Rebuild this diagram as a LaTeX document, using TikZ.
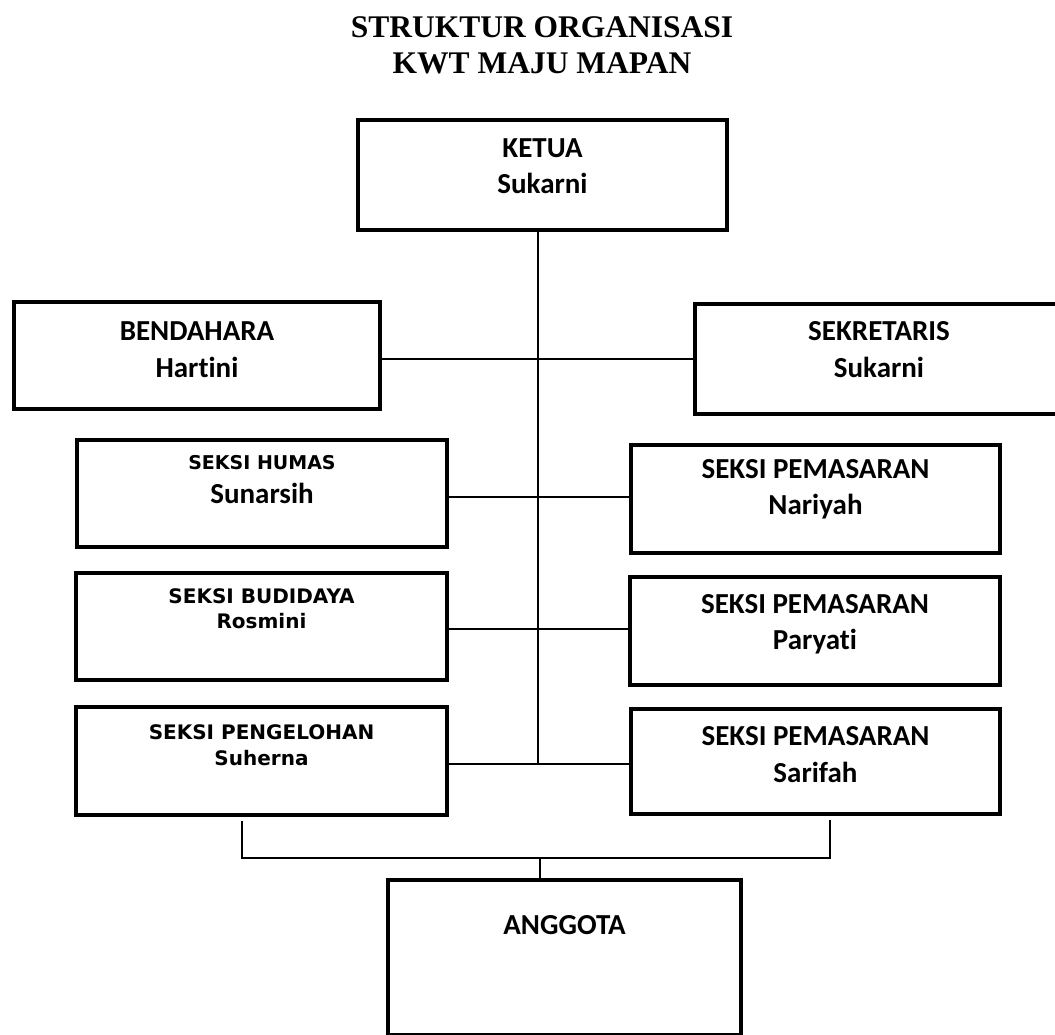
\documentclass[tikz,border=0pt]{standalone}
\usepackage{fontspec}
\setmainfont{Liberation Serif}
\newfontfamily\boxfont[Ligatures=NoCommon]{Carlito}
\newfontfamily\tahfont{DejaVu Sans}
\begin{document}
\begin{tikzpicture}[x=1pt,y=-1pt,
  box/.style={draw=black, line width=4pt, rectangle, inner sep=0pt},
  conn/.style={draw=black, line width=1.8pt},
  lab/.style={anchor=base, inner sep=0pt, font=\boxfont\bfseries\fontsize{29}{32}\selectfont},
  labs/.style={anchor=base, inner sep=0pt, font=\tahfont\bfseries\fontsize{19}{22}\selectfont},
  labm/.style={anchor=base, inner sep=0pt, font=\tahfont\bfseries\fontsize{20}{23}\selectfont},
  ttl/.style={anchor=base, inner sep=0pt, font=\bfseries\fontsize{31.5}{34}\selectfont}]
\clip (0,0) rectangle (1055,1035);
\useasboundingbox (0,0) rectangle (1055,1035);

% title
\node[ttl] (t1) at (542,38) {STRUKTUR ORGANISASI};
\node[ttl] (t2) at (542,74) {KWT MAJU MAPAN};

% boxes
\node[box, minimum width=369pt, minimum height=110pt] (ketua) at (542.5,175) {};
\node[box, minimum width=366pt, minimum height=107pt] (bendahara) at (197,355.5) {};
\node[box, minimum width=368pt, minimum height=110pt] (sekretaris) at (879,359) {};
\node[box, minimum width=370pt, minimum height=107pt] (humas) at (262,493.5) {};
\node[box, minimum width=369pt, minimum height=108pt] (nariyah) at (815.5,499) {};
\node[box, minimum width=371pt, minimum height=107pt] (budidaya) at (261.5,626.5) {};
\node[box, minimum width=370pt, minimum height=108pt] (paryati) at (815,631) {};
\node[box, minimum width=371pt, minimum height=108pt] (pengelohan) at (261.5,761) {};
\node[box, minimum width=369pt, minimum height=105pt] (sarifah) at (815.5,761.5) {};
\node[box, minimum width=353pt, minimum height=155pt] (anggota) at (564.5,957.5) {};

% texts
\node[lab] (ketuaA) at (542.5,158) {KETUA};
\node[lab] (ketuaB) at (542.5,194) {Sukarni};
\node[lab] (bendA) at (197,340) {BENDAHARA};
\node[lab] (bendB) at (197,377) {Hartini};
\node[lab] (sekA) at (879,340) {SEKRETARIS};
\node[lab] (sekB) at (879,377) {Sukarni};
\node[labs] (humA) at (262,469) {SEKSI HUMAS};
\node[lab] (humB) at (262,503) {Sunarsih};
\node[lab] (narA) at (815.5,478) {SEKSI PEMASARAN};
\node[lab] (narB) at (815.5,514) {Nariyah};
\node[labm] (budA) at (261.5,603) {SEKSI BUDIDAYA};
\node[labm] (budB) at (261.5,628) {Rosmini};
\node[lab] (parA) at (815,613) {SEKSI PEMASARAN};
\node[lab] (parB) at (815,649) {Paryati};
\node[labm] (pengA) at (261.5,739) {SEKSI PENGELOHAN};
\node[labm] (pengB) at (261.5,765) {Suherna};
\node[lab] (sarA) at (815.5,745) {SEKSI PEMASARAN};
\node[lab] (sarB) at (815.5,782) {Sarifah};
\node[lab] (angA) at (564.5,934) {ANGGOTA};

% connectors
\coordinate (trTop) at (538,230);
\coordinate (trBot) at (538,764);
\draw[conn] (trTop) -- (trBot);
\draw[conn] (bendahara.east |- 0,359) -- (sekretaris.west |- 0,359);
\draw[conn] (humas.east |- 0,497) -- (nariyah.west |- 0,497);
\draw[conn] (budidaya.east |- 0,629) -- (paryati.west |- 0,629);
\draw[conn] (pengelohan.east |- 0,764) -- (sarifah.west |- 0,764);

\coordinate (sl) at (242,821);
\coordinate (sr) at (830,820);
\coordinate (jl) at (242,858);
\coordinate (jr) at (830,858);
\coordinate (jm) at (540,858);
\draw[conn] (sl) -- (jl) -- (jr) -- (sr);
\draw[conn] (jm) -- (anggota.north -| jm);
\end{tikzpicture}
\end{document}
